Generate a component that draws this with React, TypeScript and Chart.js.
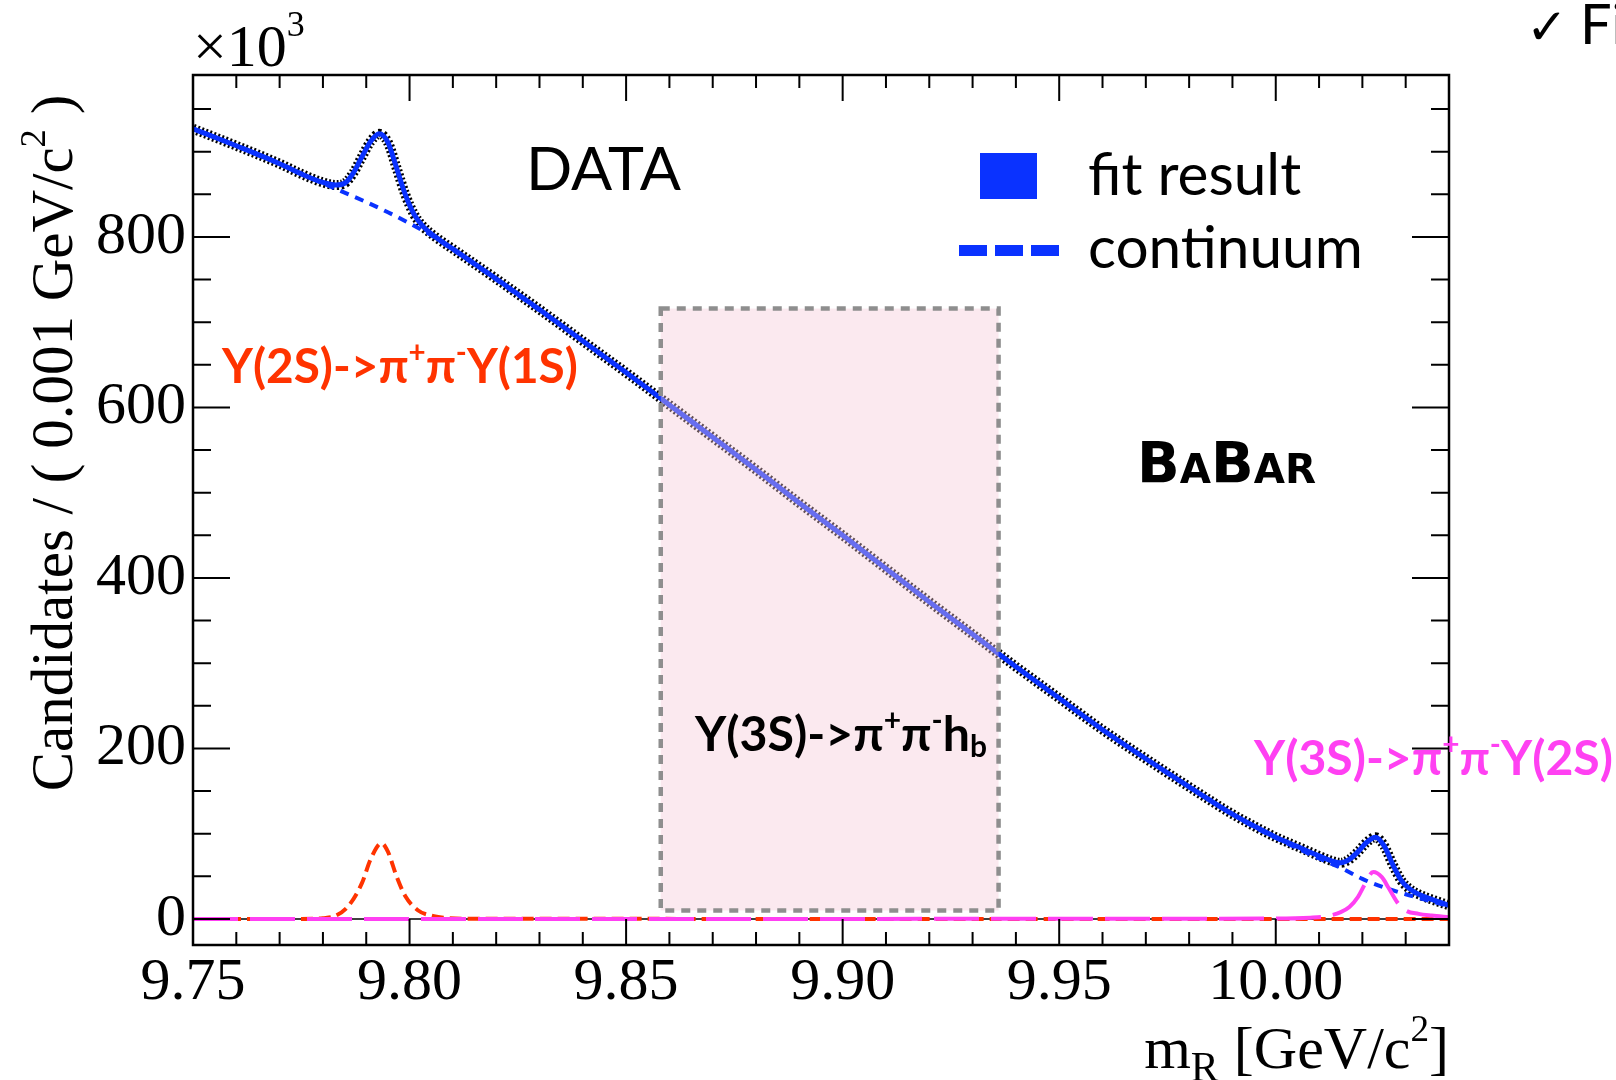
import React, { useEffect, useRef } from 'react';
import { Chart, registerables } from 'chart.js';

Chart.register(...registerables);

// ---------- data ----------
const xRange = [9.75, 10.04];
const yRange = [-30.5, 990];

const xTickValues = [9.75, 9.8, 9.85, 9.9, 9.95, 10.0];
const xTickLabels = ['9.75', '9.80', '9.85', '9.90', '9.95', '10.00'];
const yTickValues = [0, 200, 400, 600, 800];
const yTickLabels = ['0', '200', '400', '600', '800'];

// total fit (data follow it closely)
const fitX = [
  9.75, 9.76, 9.77, 9.775, 9.78, 9.783, 9.785, 9.787, 9.789, 9.791, 9.793, 9.795, 9.797, 9.799,
  9.801, 9.803, 9.806, 9.81, 9.82, 9.83, 9.84, 9.85, 9.86, 9.87, 9.88, 9.89, 9.9, 9.91, 9.92,
  9.93, 9.94, 9.95, 9.96, 9.97, 9.98, 9.99, 9.995, 10.0, 10.005, 10.01, 10.013, 10.015, 10.017,
  10.019, 10.021, 10.023, 10.025, 10.027, 10.029, 10.031, 10.033, 10.036, 10.04,
];
const fitY = [
  927, 907, 886, 874, 864, 861, 863, 875, 894, 912, 921, 911, 881, 850,
  827, 813, 800, 786, 751, 715, 678, 641, 603, 565, 527, 488, 450, 411, 372,
  334, 296, 259, 222, 188, 155, 123, 109, 96, 85, 74, 68, 66, 70,
  79, 90, 96, 86, 64, 45, 35, 29, 23, 16,
];

// continuum background
const contX = [
  9.75, 9.755, 9.76, 9.765, 9.77, 9.775, 9.78, 9.785, 9.79, 9.795, 9.8, 9.805, 9.81, 9.815,
  9.82, 9.825, 9.83, 9.835, 9.84, 9.845, 9.85, 9.855, 9.86, 9.865, 9.87, 9.875, 9.88, 9.885,
  9.89, 9.895, 9.9, 9.905, 9.91, 9.915, 9.92, 9.925, 9.93, 9.935, 9.94, 9.945, 9.95, 9.955,
  9.96, 9.965, 9.97, 9.975, 9.98, 9.985, 9.99, 9.995, 10.0, 10.005, 10.01, 10.015, 10.02,
  10.025, 10.03, 10.035, 10.04,
];
const contY = [
  927, 917, 907, 896, 886, 874, 863, 852, 841, 829, 816, 802, 785, 768,
  750, 732, 714, 696, 678, 659, 641, 622, 603, 584, 565, 546, 527, 508,
  488, 469, 450, 430, 411, 392, 372, 353, 334, 315, 296, 277, 259, 240,
  222, 205, 188, 171, 155, 139, 123, 108, 95, 83, 71, 60, 47,
  37, 29, 22, 15,
];

// Y(2S) -> pi+ pi- Y(1S) component
const y2sX = [9.75, 9.775, 9.78, 9.783, 9.786, 9.789, 9.791, 9.7935, 9.795, 9.797, 9.799, 9.802, 9.805, 9.808, 9.812, 10.04];
const y2sY = [0, 0, 1, 4, 16, 42, 70, 89, 79, 50, 27, 10, 4, 1.5, 0.3, 0];

// Y(3S) -> pi+ pi- Y(2S) component
const y3sX = [9.75, 10.0, 10.008, 10.012, 10.015, 10.017, 10.019, 10.0205, 10.0225, 10.0245, 10.026, 10.028, 10.03, 10.033, 10.036, 10.04];
const y3sY = [0, 0.5, 1.5, 3.5, 8, 14, 26, 40, 55, 49, 37, 20, 10, 6, 4, 2];

// Y(3S) -> pi+ pi- h_b signal region
const boxX = [9.858, 9.936];
const boxY = [10, 716];

// ---------- colours ----------
const BLUE = '#0a32ff';
const RED = '#ff3300';
const MAGENTA = '#ff40f2';

type Seg = { t: string; s?: number; dy?: number };

function richWidth(ctx: CanvasRenderingContext2D, segs: Seg[], size: number, family: string, weight: string) {
  let w = 0;
  for (const g of segs) {
    ctx.font = `${weight} ${size * (g.s ?? 1)}px ${family}`;
    w += ctx.measureText(g.t).width;
  }
  return w;
}

function drawRich(
  ctx: CanvasRenderingContext2D,
  segs: Seg[],
  x: number,
  y: number,
  size: number,
  family: string,
  weight: string,
  color: string,
  align: 'left' | 'right' | 'center' = 'left'
) {
  const w = richWidth(ctx, segs, size, family, weight);
  let cx = align === 'left' ? x : align === 'right' ? x - w : x - w / 2;
  ctx.fillStyle = color;
  ctx.textAlign = 'left';
  ctx.textBaseline = 'alphabetic';
  for (const g of segs) {
    ctx.font = `${weight} ${size * (g.s ?? 1)}px ${family}`;
    ctx.fillText(g.t, cx, y + (g.dy ?? 0) * size);
    cx += ctx.measureText(g.t).width;
  }
}

function fitSize(ctx: CanvasRenderingContext2D, segs: Seg[], family: string, weight: string, target: number) {
  const w = richWidth(ctx, segs, 100, family, weight);
  return (100 * target) / w;
}

const SERIF = '"Liberation Serif", "Times New Roman", serif';
const SANS = 'Lato, "Open Sans", sans-serif';

const overlay = {
  id: 'overlay',
  beforeDatasetsDraw(chart: any) {
    const { ctx, chartArea, scales } = chart;
    const y0 = scales.y.getPixelForValue(0);
    ctx.save();
    ctx.strokeStyle = '#000';
    ctx.lineWidth = 1.5;
    ctx.beginPath();
    ctx.moveTo(chartArea.left, y0);
    ctx.lineTo(chartArea.right, y0);
    ctx.stroke();
    ctx.restore();
  },
  afterDatasetsDraw(chart: any) {
    const { ctx, scales } = chart;
    const x1 = scales.x.getPixelForValue(boxX[0]);
    const x2 = scales.x.getPixelForValue(boxX[1]);
    const yt = scales.y.getPixelForValue(boxY[1]);
    const yb = scales.y.getPixelForValue(boxY[0]);
    ctx.save();
    ctx.fillStyle = 'rgba(245, 200, 215, 0.4)';
    ctx.fillRect(x1, yt, x2 - x1, yb - yt);
    ctx.strokeStyle = '#8e8e8e';
    ctx.lineWidth = 4.5;
    ctx.setLineDash([9, 7]);
    ctx.strokeRect(x1, yt, x2 - x1, yb - yt);
    ctx.restore();
  },
  afterDraw(chart: any) {
    const { ctx, chartArea, scales } = chart;
    const { left, right, top, bottom } = chartArea;
    ctx.save();
    // frame
    ctx.strokeStyle = '#000';
    ctx.lineWidth = 2.5;
    ctx.setLineDash([]);
    ctx.strokeRect(left, top, right - left, bottom - top);
    // x ticks (inward, bottom and top)
    ctx.lineWidth = 2;
    ctx.beginPath();
    for (let i = 0; i <= 29; i++) {
      const v = xRange[0] + i * 0.01;
      const px = scales.x.getPixelForValue(v);
      const major = i % 5 === 0;
      const len = major ? 26 : 13;
      ctx.moveTo(px, bottom);
      ctx.lineTo(px, bottom - len);
      ctx.moveTo(px, top);
      ctx.lineTo(px, top + len);
    }
    for (let i = 0; i <= 19; i++) {
      const v = i * 50;
      if (v > yRange[1]) break;
      const py = scales.y.getPixelForValue(v);
      const major = v % 200 === 0;
      const len = major ? 37 : 18;
      ctx.moveTo(left, py);
      ctx.lineTo(left + len, py);
      ctx.moveTo(right, py);
      ctx.lineTo(right - len, py);
    }
    ctx.stroke();

    // exponent
    drawRich(ctx, [{ t: '\u00d710' }, { t: '3', s: 0.6, dy: -0.5 }], 193, 66, 60, SERIF, '400', '#000');

    // y title
    ctx.save();
    ctx.translate(72, 443);
    ctx.rotate(-Math.PI / 2);
    drawRich(
      ctx,
      [{ t: 'Candidates / ( 0.001 GeV/c' }, { t: '2', s: 0.62, dy: -0.45 }, { t: ' )' }],
      0,
      0,
      59,
      SERIF,
      '400',
      '#000',
      'center'
    );
    ctx.restore();

    // x title
    drawRich(
      ctx,
      [{ t: 'm' }, { t: 'R', s: 0.7, dy: 0.22 }, { t: ' [GeV/c' }, { t: '2', s: 0.62, dy: -0.45 }, { t: ']' }],
      right,
      1068,
      60,
      SERIF,
      '400',
      '#000',
      'right'
    );

    // DATA
    {
      const segs = [{ t: 'DATA' }];
      const sz = fitSize(ctx, segs, SANS, '400', 155);
      drawRich(ctx, segs, 526, 190, sz, SANS, '400', '#000');
    }

    // legend
    ctx.fillStyle = BLUE;
    ctx.fillRect(980, 153, 57, 46);
    ctx.strokeStyle = BLUE;
    ctx.lineWidth = 11;
    ctx.setLineDash([28, 8]);
    ctx.beginPath();
    ctx.moveTo(959, 250.5);
    ctx.lineTo(1059, 250.5);
    ctx.stroke();
    ctx.setLineDash([]);
    {
      const s1 = [{ t: 'fit result' }];
      const s2 = [{ t: 'continuum' }];
      const a = fitSize(ctx, s1, SANS, '400', 217);
      const b = fitSize(ctx, s2, SANS, '400', 270);
      const sz = (a + b) / 2;
      drawRich(ctx, s1, 1088, 195, sz, SANS, '400', '#000');
      drawRich(ctx, s2, 1088, 268, sz, SANS, '400', '#000');
    }

    // BaBar
    {
      const segs = [{ t: 'B' }, { t: 'A', s: 0.72 }, { t: 'B' }, { t: 'AR', s: 0.72 }];
      const fam = '"DejaVu Sans", sans-serif';
      const sz = fitSize(ctx, segs, fam, '700', 179);
      drawRich(ctx, segs, 1137, 483, sz, fam, '700', '#000');
    }

    // annotations
    const sup = (t: string): Seg => ({ t, s: 0.62, dy: -0.42 });
    {
      const segs: Seg[] = [{ t: 'Y(2S)->\u03c0' }, sup('+'), { t: '\u03c0' }, sup('-'), { t: 'Y(1S)' }];
      const sz = fitSize(ctx, segs, SANS, '700', 356);
      drawRich(ctx, segs, 222, 383, sz, SANS, '700', RED);
    }
    {
      const segs: Seg[] = [{ t: 'Y(3S)->\u03c0' }, sup('+'), { t: '\u03c0' }, sup('-'), { t: 'h' }, { t: 'b', s: 0.62, dy: 0.12 }];
      const sz = fitSize(ctx, segs, SANS, '700', 292);
      drawRich(ctx, segs, 695, 751, sz, SANS, '700', '#000');
    }
    {
      const segs: Seg[] = [{ t: 'Y(3S)->\u03c0' }, sup('+'), { t: '\u03c0' }, sup('-'), { t: 'Y(2S)' }];
      const sz = fitSize(ctx, segs, SANS, '700', 359);
      drawRich(ctx, segs, 1254, 775, sz, SANS, '700', MAGENTA);
    }

    // slide fragment at top right
    ctx.fillStyle = '#000';
    ctx.font = 'bold 50px "DejaVu Sans", sans-serif';
    ctx.textAlign = 'left';
    ctx.textBaseline = 'alphabetic';
    ctx.fillText('\u2713', 1526, 44);
    ctx.font = '56px Lato, "Open Sans", sans-serif';
    ctx.fillText('Fit', 1580, 44);

    ctx.restore();
  },
};

const toPts = (xs: number[], ys: number[]) => xs.map((x, i) => ({ x, y: ys[i] }));

export default function App() {
  const ref = useRef<HTMLCanvasElement | null>(null);
  useEffect(() => {
    if (!ref.current) return;
    const chart = new Chart(ref.current, {
      type: 'line',
      data: {
        datasets: [
          {
            label: 'Y(3S)->pi+pi-Y(2S)',
            data: toPts(y3sX, y3sY),
            borderColor: MAGENTA,
            borderWidth: 4,
            borderDash: [45, 12],
            pointRadius: 0,
            cubicInterpolationMode: 'monotone',
            order: 1,
          },
          {
            label: 'Y(2S)->pi+pi-Y(1S)',
            data: toPts(y2sX, y2sY),
            borderColor: RED,
            borderWidth: 4,
            borderDash: [12, 6],
            pointRadius: 0,
            cubicInterpolationMode: 'monotone',
            order: 2,
          },
          {
            label: 'continuum',
            data: toPts(contX, contY),
            borderColor: BLUE,
            borderWidth: 4,
            borderDash: [9, 7],
            pointRadius: 0,
            cubicInterpolationMode: 'monotone',
            order: 3,
          },
          {
            label: 'fit result',
            data: toPts(fitX, fitY),
            borderColor: BLUE,
            borderWidth: 5,
            pointRadius: 0,
            cubicInterpolationMode: 'monotone',
            order: 4,
          },
          {
            label: 'data',
            data: toPts(fitX, fitY),
            borderColor: '#000',
            borderWidth: 10,
            borderDash: [2, 2.3],
            pointRadius: 0,
            cubicInterpolationMode: 'monotone',
            order: 5,
          },
        ] as any,
      },
      options: {
        animation: false,
        responsive: false,
        devicePixelRatio: 1,
        events: [],
        layout: { padding: { top: 75, right: 167, left: 0, bottom: 0 } },
        plugins: { legend: { display: false }, tooltip: { enabled: false } },
        scales: {
          x: {
            type: 'linear',
            min: xRange[0],
            max: xRange[1],
            grid: { display: false, drawTicks: false },
            border: { display: false },
            afterBuildTicks: (axis: any) => {
              axis.ticks = xTickValues.map((v) => ({ value: v }));
            },
            afterFit: (axis: any) => {
              axis.height = 135;
            },
            ticks: {
              autoSkip: false,
              maxRotation: 0,
              padding: 2,
              color: '#000',
              font: { family: SERIF, size: 60 },
              callback: (v: any) => {
                const i = xTickValues.findIndex((t) => Math.abs(t - v) < 1e-6);
                return i >= 0 ? xTickLabels[i] : '';
              },
            },
          },
          y: {
            type: 'linear',
            min: yRange[0],
            max: yRange[1],
            grid: { display: false, drawTicks: false },
            border: { display: false },
            afterBuildTicks: (axis: any) => {
              axis.ticks = yTickValues.map((v) => ({ value: v }));
            },
            afterFit: (axis: any) => {
              axis.width = 193;
            },
            ticks: {
              autoSkip: false,
              padding: 7,
              color: '#000',
              font: { family: SERIF, size: 60 },
              callback: (v: any) => {
                const i = yTickValues.findIndex((t) => Math.abs(t - v) < 1e-6);
                return i >= 0 ? yTickLabels[i] : '';
              },
            },
          },
        },
      },
      plugins: [overlay],
    } as any);
    return () => chart.destroy();
  }, []);
  return (
    <div style={{ position: 'absolute', left: 0, top: 0, width: 1616, height: 1080, background: '#fff', overflow: 'hidden' }}>
      <canvas ref={ref} width={1616} height={1080} style={{ display: 'block' }} />
    </div>
  );
}
